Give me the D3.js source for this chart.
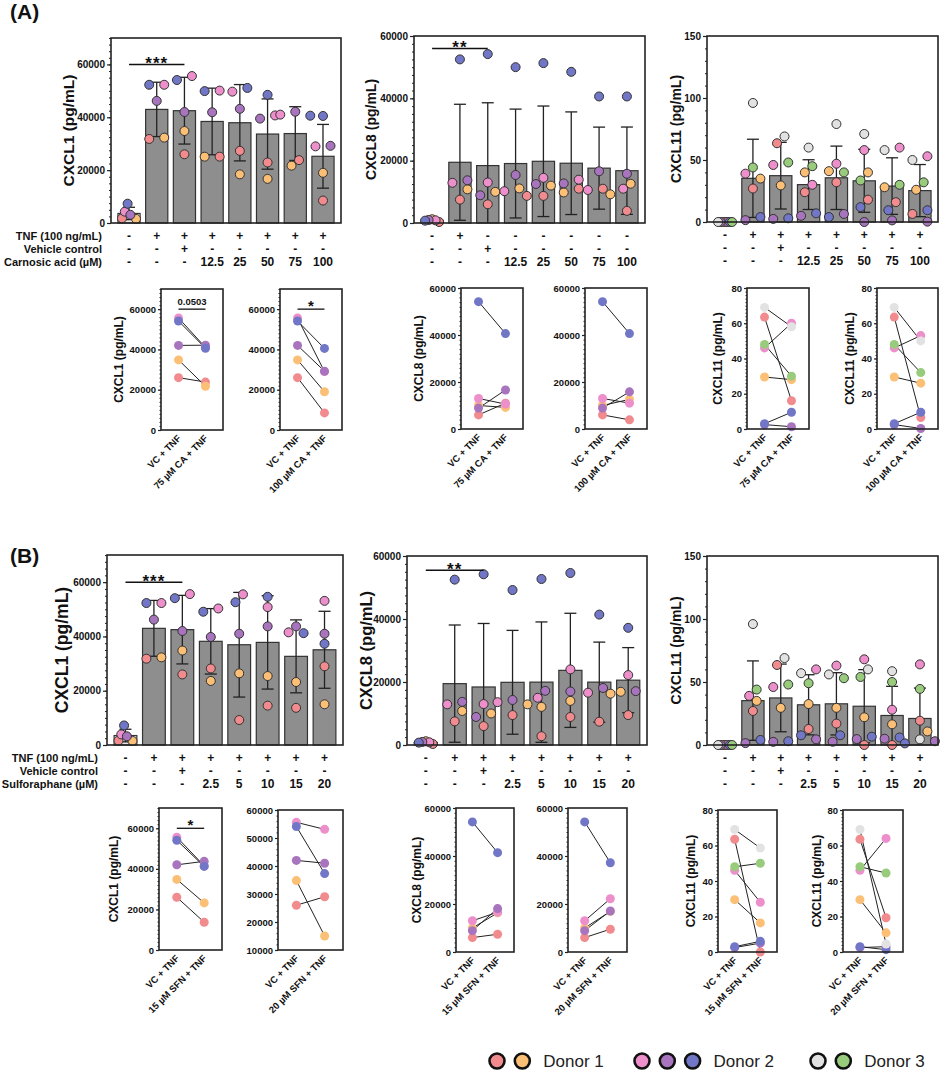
<!DOCTYPE html>
<html>
<head>
<meta charset="utf-8">
<script src="https://cdn.jsdelivr.net/npm/d3@7"></script>
<style>
  body { margin: 0; background: #fff; }
  svg text { font-family: "Liberation Sans", Arial, sans-serif; font-weight: bold; fill: #111; }
</style>
</head>
<body>
<svg id="fig" width="941" height="1074"></svg>
<script>
// sample order: Donor 1 (salmon, orange), Donor 2 (pink, purple, blue), Donor 3 (grey, green)
const sampleColors = ["#F28B8E", "#FBBF75", "#EC8FCB", "#A874BE", "#7177C6", "#E2E2E2", "#98CC7C"];
const legendGroups = [[0, 1], [2, 3, 4], [5, 6]];
const legendNames = ["Donor 1", "Donor 2", "Donor 3"];

// row tables under the bar charts
const rowTitlesA = ["TNF (100 ng/mL)", "Vehicle control", "Carnosic acid (\u00b5M)"];
const rowTitlesB = ["TNF (100 ng/mL)", "Vehicle control", "Sulforaphane (\u00b5M)"];
const tnfRow = ["-", "+", "+", "+", "+", "+", "+", "+"];
const tnfRowA8 = ["-", "+", "-", "-", "-", "-", "-", "-"];
const vcRow = ["-", "-", "+", "-", "-", "-", "-", "-"];
const caRow = ["-", "-", "-", "12.5", "25", "50", "75", "100"];
const sfnRow = ["-", "-", "-", "2.5", "5", "10", "15", "20"];

// columns: control, TNF, VC+TNF, then 5 doses (+TNF); one row per sample
const cxcl1CA = [
  [1750, 31800, 26000, 25100, 27300, 22900, 23800, 8500],
  [1600, 32300, 34800, 25100, 18400, 16700, 21700, 19000],
  [4300, 52300, 55600, 50100, 49700, 40700, 41000, 29000],
  [3100, 46200, 42000, 41900, 43200, 39500, 42100, 29200],
  [7300, 52300, 54100, 49900, 51100, 48500, 40600, 40500]
];
const cxcl8CA = [
  [320, 7500, 6000, 8700, 8700, 11000, 11000, 3900],
  [1200, 10800, 10000, 11100, 12000, 9800, 9200, 12600],
  [860, 12900, 13000, 10200, 14500, 13900, 10600, 11000],
  [970, 13700, 8900, 15400, 12500, 12700, 16600, 15800],
  [750, 52500, 54200, 50000, 51300, 48500, 40600, 40600]
];
const cxcl11CA = [
  [0, 27, 63.5, 24, 32, 18, 16, 6.5],
  [0, 35, 29.5, 40, 41, 40, 28, 26],
  [0, 39, 46, 30, 47, 58, 60, 53],
  [0, 1.5, 2.5, 5, 6.5, 0, 1.3, 0.3],
  [0, 4, 3, 7, 4, 12, 9.5, 9.5],
  [0, 96, 69, 60, 79, 71, 58, 50],
  [0, 44, 48, 45, 40, 33.5, 30, 32]
];
const cxcl1SFN = [
  [1600, 31800, 26000, 28200, 9200, 14500, 13700, 29000],
  [1500, 32300, 34800, 23600, 26400, 25400, 23200, 15000],
  [3900, 52300, 55600, 50300, 55500, 50800, 41500, 53100],
  [3200, 46200, 42000, 39800, 41000, 43700, 43700, 41000],
  [7200, 52300, 54100, 49100, 52600, 54600, 41200, 37300]
];
const cxcl8SFN = [
  [320, 7500, 6000, 9500, 2800, 8900, 7400, 9500],
  [1200, 10800, 10000, 12900, 12100, 14000, 16300, 16900],
  [860, 12900, 13000, 13600, 15000, 24000, 16600, 22200],
  [970, 13700, 8900, 14300, 17200, 17000, 18100, 17100],
  [750, 52500, 54200, 49200, 52700, 54600, 41400, 37200]
];
const cxcl11SFN = [
  [0, 27, 63.5, 12.7, 17, 0, 0, 19.3],
  [0, 35, 29.5, 32.5, 29.5, 22, 16.4, 10.8],
  [0, 39, 46, 60, 63, 68, 28, 64],
  [0, 1.5, 2.5, 4.5, 2.6, 4.7, 5, 3],
  [0, 4, 3, 7.7, 7.7, 6.6, 6, 1.3],
  [0, 96, 69, 57, 56, 60, 58.6, 4.5],
  [0, 44, 48, 49, 53, 54, 50, 44.5]
];

const svg = d3.select("#fig");
const fmt = d3.format("d");
const R = 4.5;

// spread the dots of one column so they don't overlap, centre each clump,
// and squeeze clumps that would be wider than the bar
function swarm(pts, y, maxHalf) {
  const placed = [];
  const step = 7.5;
  pts.slice().sort((a, b) => b.v - a.v).forEach(p => {
    p.py = y(p.v);
    for (let k = 0; k < 15; k++) {
      const dx = k === 0 ? 0 : (k % 2 ? -1 : 1) * Math.ceil(k / 2) * step;
      if (placed.every(q => Math.hypot(q.dx - dx, q.py - p.py) >= 2 * R)) {
        p.dx = dx;
        placed.push(p);
        break;
      }
    }
  });
  placed.sort((a, b) => a.py - b.py);
  let clump = [];
  const flush = () => {
    const lo = d3.min(clump, d => d.dx), hi = d3.max(clump, d => d.dx);
    clump.forEach(d => d.dx -= (lo + hi) / 2);
    const w = d3.max(clump, d => Math.abs(d.dx));
    if (w > maxHalf) clump.forEach(d => d.dx *= maxHalf / w);
    clump = [];
  };
  placed.forEach(p => {
    if (clump.length && p.py - clump[clump.length - 1].py >= 2 * R) flush();
    clump.push(p);
  });
  if (clump.length) flush();
  return pts;
}

function yAxis(g, c, y, tickLen, minorLen, fontSize) {
  const minor = d3.range(c.domain[0], c.domain[1] + 1e-9, c.minor);
  g.append("g")
    .attr("transform", `translate(${c.left},0)`)
    .call(d3.axisLeft(y).tickValues(minor).tickSize(minorLen).tickFormat(""))
    .call(a => a.select(".domain").remove())
    .selectAll("line").attr("stroke", "#222");
  const ax = g.append("g")
    .attr("transform", `translate(${c.left},0)`)
    .call(d3.axisLeft(y).tickValues(c.ticks).tickSize(tickLen).tickPadding(2).tickFormat(fmt));
  ax.select(".domain").remove();
  ax.selectAll("line").attr("stroke", "#222").attr("stroke-width", 1.2);
  ax.selectAll("text").attr("font-size", fontSize).attr("fill", "#111");
  g.append("rect")
    .attr("x", c.left).attr("y", c.top)
    .attr("width", c.right - c.left).attr("height", c.bottom - c.top)
    .attr("fill", "none").attr("stroke", "#222").attr("stroke-width", 1.6);
}

function drawBars(c) {
  const g = svg.append("g");
  const n = c.data[0].length;
  const x = d3.scaleBand().domain(d3.range(n)).range([c.left, c.right])
    .paddingInner(0.2).paddingOuter(0.25);
  const y = d3.scaleLinear().domain(c.domain).range([c.bottom, c.top]);
  const bw = x.bandwidth();
  const cols = d3.range(n).map(i => {
    const vals = c.data.map(s => s[i]);
    return { i, mean: d3.mean(vals), sd: d3.deviation(vals),
             pts: swarm(c.data.map((s, k) => ({ v: s[i], k })), y, i === 0 ? 7 : 15) };
  });

  g.selectAll(".bar").data(cols).join("rect")
    .attr("x", d => x(d.i)).attr("width", bw)
    .attr("y", d => y(d.mean)).attr("height", d => y(0) - y(d.mean))
    .attr("fill", d => d.i === 0 ? "#e6e6e6" : "#8e8e8e")
    .attr("stroke", "#333").attr("stroke-width", 1.2);

  const eb = g.selectAll(".err").data(cols.filter(d => d.sd > 0)).join("g");
  eb.append("line")
    .attr("x1", d => x(d.i) + bw / 2).attr("x2", d => x(d.i) + bw / 2)
    .attr("y1", d => y(Math.max(0, d.mean - d.sd))).attr("y2", d => y(d.mean + d.sd))
    .attr("stroke", "#222").attr("stroke-width", 1.3);
  eb.append("line")
    .attr("x1", d => x(d.i) + bw / 2 - 6).attr("x2", d => x(d.i) + bw / 2 + 6)
    .attr("y1", d => y(d.mean + d.sd)).attr("y2", d => y(d.mean + d.sd))
    .attr("stroke", "#222").attr("stroke-width", 1.3);
  eb.filter(d => d.mean - d.sd > 0).append("line")
    .attr("x1", d => x(d.i) + bw / 2 - 6).attr("x2", d => x(d.i) + bw / 2 + 6)
    .attr("y1", d => y(d.mean - d.sd)).attr("y2", d => y(d.mean - d.sd))
    .attr("stroke", "#222").attr("stroke-width", 1.3);

  cols.forEach(col => {
    g.append("g").selectAll("circle").data(col.pts).join("circle")
      .attr("cx", d => x(col.i) + bw / 2 + d.dx).attr("cy", d => y(d.v)).attr("r", R)
      .attr("fill", d => sampleColors[d.k]).attr("stroke", "#333").attr("stroke-width", 1);
  });

  yAxis(g, c, y, 4, 2, 10);

  g.append("text")
    .attr("transform", `translate(${c.left - c.labelOff},${(c.top + c.bottom) / 2}) rotate(-90)`)
    .attr("text-anchor", "middle").attr("dominant-baseline", "middle")
    .attr("font-size", c.labelSize).text(c.label);

  c.rows.forEach((row, r) => {
    g.append("g").selectAll("text").data(row).join("text")
      .attr("x", (d, i) => x(i) + bw / 2).attr("y", c.bottom + 17 + r * 13)
      .attr("text-anchor", "middle").attr("font-size", 12).text(d => d);
    if (c.rowTitles) {
      g.append("text").attr("x", c.left - 9).attr("y", c.bottom + 17 + r * 13)
        .attr("text-anchor", "end").attr("font-size", 11).text(c.rowTitles[r]);
    }
  });

  if (c.sig) {
    const x1 = x(c.sig.from) + bw / 2, x2 = x(c.sig.to) + bw / 2, ys = y(c.sig.v);
    g.append("line").attr("x1", x1).attr("x2", x2).attr("y1", ys).attr("y2", ys)
      .attr("stroke", "#111").attr("stroke-width", 1.5);
    g.append("text").attr("x", (x1 + x2) / 2).attr("y", ys + 5)
      .attr("text-anchor", "middle").attr("font-size", 17).attr("letter-spacing", 1)
      .text(c.sig.text);
  }
}

function drawPaired(c) {
  const g = svg.append("g");
  const x = d3.scalePoint().domain([0, 1]).range([c.left, c.right]).padding(0.65);
  const y = d3.scaleLinear().domain(c.domain).range([c.bottom, c.top]);
  const pairs = c.data.map((s, k) => ({ k, a: s[2], b: s[c.col] }));

  g.selectAll(".pl").data(pairs).join("line")
    .attr("x1", x(0)).attr("x2", x(1))
    .attr("y1", d => y(d.a)).attr("y2", d => y(d.b))
    .attr("stroke", "#222").attr("stroke-width", 1);
  [0, 1].forEach(side => {
    g.append("g").selectAll("circle").data(pairs).join("circle")
      .attr("cx", x(side)).attr("cy", d => y(side ? d.b : d.a)).attr("r", R)
      .attr("fill", d => sampleColors[d.k]);
  });

  yAxis(g, c, y, 3, 1.5, 9.5);

  if (c.label) {
    g.append("text")
      .attr("transform", `translate(${c.left - c.labelOff},${(c.top + c.bottom) / 2}) rotate(-90)`)
      .attr("text-anchor", "middle").attr("dominant-baseline", "middle")
      .attr("font-size", 12).text(c.label);
  }

  g.selectAll(".xl").data(c.xLabels).join("text")
    .attr("transform", (d, i) => `translate(${x(i) + 3},${c.bottom + 9}) rotate(-45)`)
    .attr("text-anchor", "end").attr("font-size", 9.5).text(d => d);

  if (c.sig) {
    const ys = y(c.sig.v);
    g.append("line").attr("x1", x(0)).attr("x2", x(1)).attr("y1", ys).attr("y2", ys)
      .attr("stroke", "#111").attr("stroke-width", 1.3);
    g.append("text").attr("x", (x(0) + x(1)) / 2).attr("y", ys - (c.sig.text === "*" ? -2 : 4))
      .attr("text-anchor", "middle").attr("font-size", c.sig.text === "*" ? 15 : 9.5)
      .text(c.sig.text);
  }
}

// panel letters
svg.append("text").attr("x", 10).attr("y", 19).attr("font-size", 21).text("(A)");
svg.append("text").attr("x", 10).attr("y", 563).attr("font-size", 21).text("(B)");

// ---- panel A ----
drawBars({ data: cxcl1CA, left: 111, right: 341, top: 38, bottom: 223, domain: [0, 70000],
  ticks: [0, 20000, 40000, 60000], minor: 2500, label: "CXCL1 (pg/mL)", labelSize: 15.5, labelOff: 41,
  rows: [tnfRow, vcRow, caRow], rowTitles: rowTitlesA, sig: { from: 0, to: 2, v: 60000, text: "***" } });
drawBars({ data: cxcl8CA, left: 414, right: 645, top: 36, bottom: 223, domain: [0, 60000],
  ticks: [0, 20000, 40000, 60000], minor: 2500, label: "CXCL8 (pg/mL)", labelSize: 14, labelOff: 42,
  rows: [tnfRowA8, vcRow, caRow], sig: { from: 0, to: 2, v: 56000, text: "**" } });
drawBars({ data: cxcl11CA, left: 707, right: 938, top: 36, bottom: 222, domain: [0, 150],
  ticks: [0, 50, 100, 150], minor: 10, label: "CXCL11 (pg/mL)", labelSize: 14, labelOff: 30,
  rows: [tnfRow, vcRow, caRow] });

drawPaired({ data: cxcl1CA, col: 6, left: 161, right: 223, top: 289, bottom: 430, domain: [0, 70000],
  ticks: [0, 20000, 40000, 60000], minor: 2000, label: "CXCL1 (pg/mL)", labelOff: 41,
  xLabels: ["VC + TNF", "75 \u00b5M CA + TNF"], sig: { v: 60000, text: "0.0503" } });
drawPaired({ data: cxcl1CA, col: 7, left: 280, right: 342, top: 289, bottom: 430, domain: [0, 70000],
  ticks: [0, 20000, 40000, 60000], minor: 2000,
  xLabels: ["VC + TNF", "100 \u00b5M CA + TNF"], sig: { v: 60000, text: "*" } });
drawPaired({ data: cxcl8CA, col: 6, left: 461, right: 523, top: 288, bottom: 429, domain: [0, 60000],
  ticks: [0, 20000, 40000, 60000], minor: 2000, label: "CXCL8 (pg/mL)", labelOff: 41,
  xLabels: ["VC + TNF", "75 \u00b5M CA + TNF"] });
drawPaired({ data: cxcl8CA, col: 7, left: 585, right: 647, top: 288, bottom: 429, domain: [0, 60000],
  ticks: [0, 20000, 40000, 60000], minor: 2000,
  xLabels: ["VC + TNF", "100 \u00b5M CA + TNF"] });
drawPaired({ data: cxcl11CA, col: 6, left: 747, right: 809, top: 288, bottom: 429, domain: [0, 80],
  ticks: [0, 20, 40, 60, 80], minor: 2, label: "CXCL11 (pg/mL)", labelOff: 28,
  xLabels: ["VC + TNF", "75 \u00b5M CA + TNF"] });
drawPaired({ data: cxcl11CA, col: 7, left: 877, right: 938, top: 288, bottom: 429, domain: [0, 80],
  ticks: [0, 20, 40, 60, 80], minor: 2, label: "CXCL11 (pg/mL)", labelOff: 26,
  xLabels: ["VC + TNF", "100 \u00b5M CA + TNF"] });

// ---- panel B ----
drawBars({ data: cxcl1SFN, left: 107, right: 343, top: 555, bottom: 745, domain: [0, 70000],
  ticks: [0, 20000, 40000, 60000], minor: 2500, label: "CXCL1 (pg/mL)", labelSize: 17.5, labelOff: 44,
  rows: [tnfRow, vcRow, sfnRow], rowTitles: rowTitlesB, sig: { from: 0, to: 2, v: 60000, text: "***" } });
drawBars({ data: cxcl8SFN, left: 407, right: 647, top: 556, bottom: 745, domain: [0, 60000],
  ticks: [0, 20000, 40000, 60000], minor: 2500, label: "CXCL8 (pg/mL)", labelSize: 16.5, labelOff: 39,
  rows: [tnfRow, vcRow, sfnRow], sig: { from: 0, to: 2, v: 55500, text: "**" } });
drawBars({ data: cxcl11SFN, left: 707, right: 938, top: 556, bottom: 745, domain: [0, 150],
  ticks: [0, 50, 100, 150], minor: 10, label: "CXCL11 (pg/mL)", labelSize: 14, labelOff: 30,
  rows: [tnfRow, vcRow, sfnRow] });

drawPaired({ data: cxcl1SFN, col: 6, left: 159, right: 222, top: 808, bottom: 950, domain: [0, 70000],
  ticks: [0, 20000, 40000, 60000], minor: 2000, label: "CXCL1 (pg/mL)", labelOff: 44,
  xLabels: ["VC + TNF", "15 \u00b5M SFN + TNF"], sig: { v: 60000, text: "*" } });
drawPaired({ data: cxcl1SFN, col: 7, left: 278, right: 343, top: 810, bottom: 950, domain: [10000, 60000],
  ticks: [10000, 20000, 30000, 40000, 50000, 60000], minor: 2000,
  xLabels: ["VC + TNF", "20 \u00b5M SFN + TNF"] });
drawPaired({ data: cxcl8SFN, col: 6, left: 456, right: 514, top: 808, bottom: 952, domain: [0, 60000],
  ticks: [0, 20000, 40000, 60000], minor: 2000, label: "CXCL8 (pg/mL)", labelOff: 38,
  xLabels: ["VC + TNF", "15 \u00b5M SFN + TNF"] });
drawPaired({ data: cxcl8SFN, col: 7, left: 568, right: 627, top: 808, bottom: 952, domain: [0, 60000],
  ticks: [0, 20000, 40000, 60000], minor: 2000,
  xLabels: ["VC + TNF", "20 \u00b5M SFN + TNF"] });
drawPaired({ data: cxcl11SFN, col: 6, left: 718, right: 777, top: 810, bottom: 952, domain: [0, 80],
  ticks: [0, 20, 40, 60, 80], minor: 2, label: "CXCL11 (pg/mL)", labelOff: 26,
  xLabels: ["VC + TNF", "15 \u00b5M SFN + TNF"] });
drawPaired({ data: cxcl11SFN, col: 7, left: 843, right: 903, top: 810, bottom: 952, domain: [0, 80],
  ticks: [0, 20, 40, 60, 80], minor: 2, label: "CXCL11 (pg/mL)", labelOff: 25,
  xLabels: ["VC + TNF", "20 \u00b5M SFN + TNF"] });

// ---- legend ----
const legendStart = [497, 642, 818];
legendGroups.forEach((grp, gi) => {
  const lg = svg.append("g");
  lg.selectAll("circle").data(grp).join("circle")
    .attr("cx", (d, i) => legendStart[gi] + i * 25.3).attr("cy", 1061).attr("r", 7.5)
    .attr("fill", d => sampleColors[d]).attr("stroke", "#111").attr("stroke-width", 2.6);
  lg.append("text")
    .attr("x", legendStart[gi] + (grp.length - 1) * 25.3 + 21).attr("y", 1067)
    .attr("font-size", 17).style("font-weight", "normal").style("fill", "#222")
    .text(legendNames[gi]);
});
</script>
</body>
</html>
